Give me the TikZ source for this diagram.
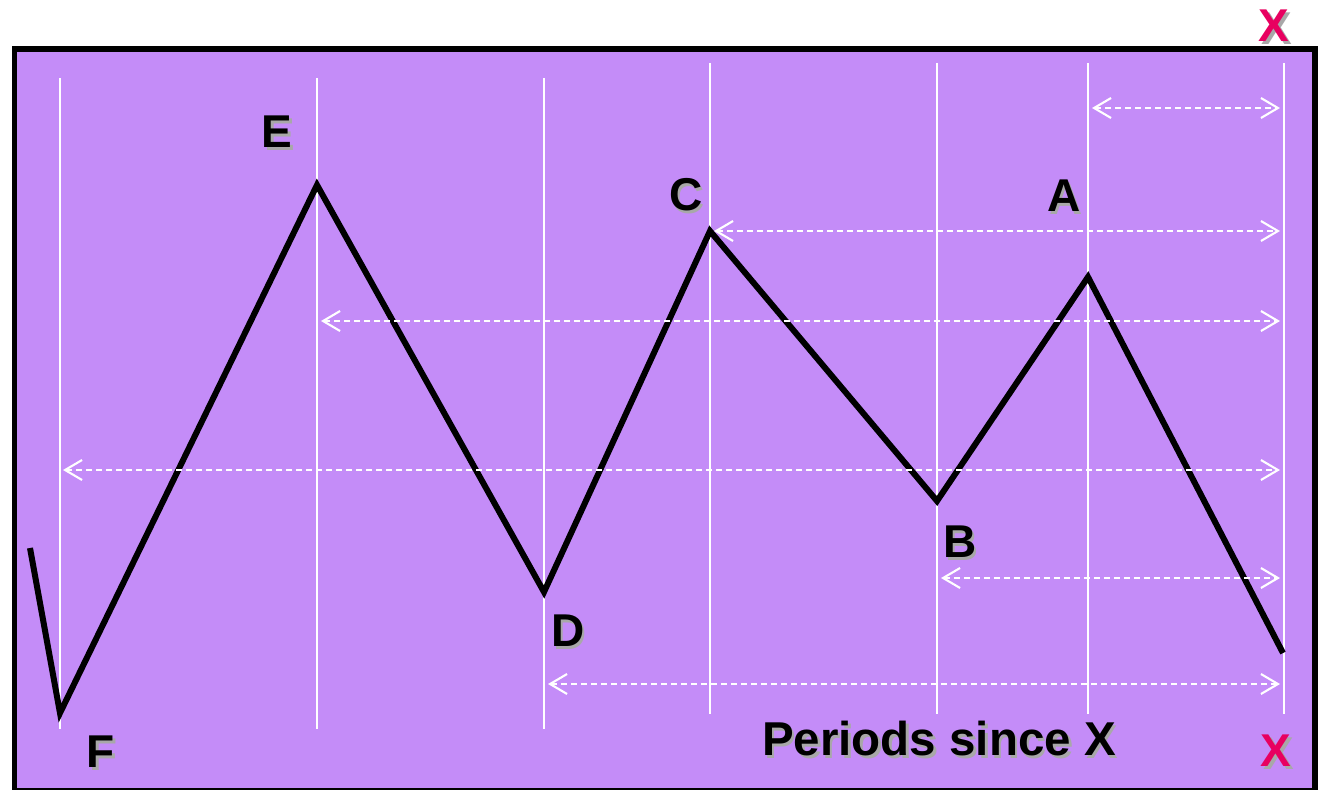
\documentclass[tikz,border=0pt]{standalone}
\usepackage{fontspec}
\setmainfont{Liberation Sans}
\usetikzlibrary{arrows.meta}
\definecolor{bgpurple}{RGB}{196,140,248}
\definecolor{xred}{RGB}{232,0,96}
\definecolor{shadowgray}{RGB}{168,168,168}
\newcommand\shd[2][black]{\makebox[0pt][l]{\hspace{2.5pt}\raisebox{-2.5pt}{\color{shadowgray}#2}}{\color{#1}#2}}
\tikzset{
  lbl/.style={inner sep=0pt, font=\fontsize{46}{55}\selectfont\bfseries},
  biglbl/.style={inner sep=0pt, font=\fontsize{47.5}{57}\selectfont\bfseries},
  vline/.style={draw=white, line width=2.3pt},
  zig/.style={draw=black, line width=6pt, line join=miter},
  dimarrow/.style={draw=white, line width=2.1pt, dash pattern=on 6pt off 4pt,
    {Straight Barb[length=17pt,width=20pt,line width=2.1pt]}-{Straight Barb[length=17pt,width=20pt,line width=2.1pt]}}
}
\begin{document}
\begin{tikzpicture}[x=1pt,y=-1pt]
\useasboundingbox (0,0) rectangle (1321,789);
\fill[white] (0,0) rectangle (1321,789);
\filldraw[fill=bgpurple, draw=black, line width=5.5pt] (14.5,49) rectangle (1315,790.5);

% vertical guide lines
\coordinate (vFt) at (60,78);   \coordinate (vFb) at (60,729);
\coordinate (vEt) at (317,78);  \coordinate (vEb) at (317,729);
\coordinate (vDt) at (544,78);  \coordinate (vDb) at (544,729);
\coordinate (vCt) at (710,63);  \coordinate (vCb) at (710,714);
\coordinate (vBt) at (937,63);  \coordinate (vBb) at (937,714);
\coordinate (vAt) at (1088,63); \coordinate (vAb) at (1088,714);
\coordinate (vXt) at (1284,63); \coordinate (vXb) at (1284,714);
\foreach \v in {F,E,D,C,B,A,X} \draw[vline] (v\v t) -- (v\v b);

% zigzag
\coordinate (S) at (30,548);
\coordinate (F) at (60,713);
\coordinate (E) at (317,185);
\coordinate (D) at (544,592);
\coordinate (C) at (710,231);
\coordinate (B) at (937,501);
\coordinate (A) at (1088,277);
\coordinate (T) at (1283,653);
\draw[zig] (S) -- (F) -- (E) -- (D) -- (C) -- (B) -- (A) -- (T);

% dimension arrows
\coordinate (a1l) at (1092,108); \coordinate (a1r) at (1280,108);
\coordinate (a2l) at (714,231);  \coordinate (a2r) at (1280,231);
\coordinate (a3l) at (321,321);  \coordinate (a3r) at (1280,321);
\coordinate (a4l) at (63,470);   \coordinate (a4r) at (1280,470);
\coordinate (a5l) at (941,578);  \coordinate (a5r) at (1280,578);
\coordinate (a6l) at (548,684);  \coordinate (a6r) at (1280,684);
\foreach \i in {1,...,6} \draw[dimarrow] (a\i l) -- (a\i r);

% labels
\node[lbl] (lE) at (277,133) {\shd{E}};
\node[lbl] (lC) at (686,196) {\shd{C}};
\node[lbl] (lA) at (1064,197) {\shd{A}};
\node[lbl] (lB) at (960,543) {\shd{B}};
\node[lbl] (lD) at (568,632) {\shd{D}};
\node[lbl] (lF) at (101,753) {\shd{F}};
\node[biglbl] (lP) at (939,740) {\shd{Periods since X}};
\node[lbl] (lX1) at (1274,27) {\shd[xred]{X}};
\node[lbl] (lX2) at (1276,752) {\shd[xred]{X}};
\end{tikzpicture}
\end{document}
